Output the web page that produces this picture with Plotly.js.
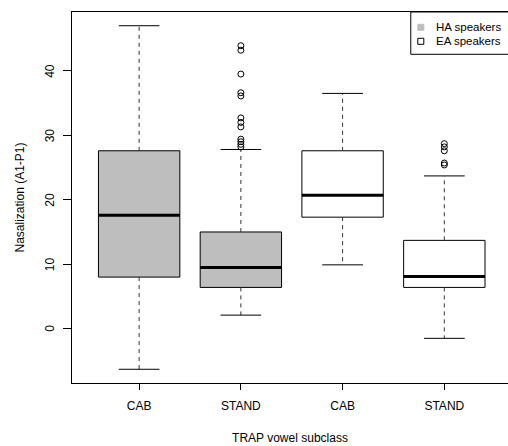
<!DOCTYPE html>
<html>
<head>
<meta charset="utf-8">
<script src="https://cdn.plot.ly/plotly-3.0.1.min.js"></script>
<style>html,body{margin:0;padding:0;background:#fff;}#chart{width:508px;height:446px;}</style>
</head>
<body>
<div id="chart"></div>
<script>
// ---- data ----
const categories = ['CAB', 'STAND', 'CAB', 'STAND'];
const speakerGroup = ['HA', 'HA', 'EA', 'EA'];
const lowerWhisker = [-6.3, 2.1, 9.9, -1.5];
const q1 = [8.0, 6.4, 17.3, 6.4];
const median = [17.6, 9.5, 20.7, 8.1];
const q3 = [27.6, 15.0, 27.6, 13.7];
const upperWhisker = [47.0, 27.8, 36.5, 23.7];
const outliers = [
  [],
  [43.9, 43.2, 39.5, 36.6, 36.1, 32.7, 32.0, 31.3, 29.4, 29.0, 28.6, 28.2],
  [],
  [28.7, 28.2, 27.6, 25.7, 25.4]
];
const groupFill = { HA: '#BEBEBE', EA: '#FFFFFF' };
const legendLabels = ['HA speakers', 'EA speakers'];
const legendGroups = ['HA', 'EA'];
const yTicks = [0, 10, 20, 30, 40];
const xTitle = 'TRAP vowel subclass';
const yTitle = 'Nasalization (A1-P1)';

// ---- build traces ----
const FONT = 'Liberation Sans, Arial, Helvetica, sans-serif';
const pos = categories.map((c, i) => i + 1);
const half = 0.4, capHalf = 0.2;
const traces = [];

pos.forEach((p, i) => {
  traces.push({
    type: 'scatter', mode: 'lines', hoverinfo: 'skip', showlegend: false,
    x: [p - half, p + half, p + half, p - half, p - half],
    y: [q1[i], q1[i], q3[i], q3[i], q1[i]],
    fill: 'toself', fillcolor: groupFill[speakerGroup[i]],
    line: { color: '#000', width: 1 }
  });
});

const wx = [], wy = [], cx = [], cy = [], mx = [], my = [], ox = [], oy = [];
pos.forEach((p, i) => {
  wx.push(p, p, null, p, p, null);
  wy.push(q3[i], upperWhisker[i], null, q1[i], lowerWhisker[i], null);
  cx.push(p - capHalf, p + capHalf, null, p - capHalf, p + capHalf, null);
  cy.push(upperWhisker[i], upperWhisker[i], null, lowerWhisker[i], lowerWhisker[i], null);
  mx.push(p - half, p + half, null);
  my.push(median[i], median[i], null);
  outliers[i].forEach(v => { ox.push(p); oy.push(v); });
});

traces.push({ type: 'scatter', mode: 'lines', x: wx, y: wy, showlegend: false, hoverinfo: 'skip',
  line: { color: '#333', width: 1, dash: '4px,4px' } });
traces.push({ type: 'scatter', mode: 'lines', x: cx, y: cy, showlegend: false, hoverinfo: 'skip',
  line: { color: '#000', width: 1 } });
traces.push({ type: 'scatter', mode: 'lines', x: mx, y: my, showlegend: false, hoverinfo: 'skip',
  line: { color: '#000', width: 3 } });
traces.push({ type: 'scatter', mode: 'markers', x: ox, y: oy, showlegend: false, hoverinfo: 'skip',
  marker: { symbol: 'circle-open', size: 6, color: '#000', line: { width: 1, color: '#000' } } });

// ---- legend (manual, R style) ----
const shapes = [{
  type: 'rect', xref: 'paper', yref: 'paper', x0: 0.777, x1: 1.02, y0: 0.886, y1: 1,
  line: { color: '#000', width: 1 }, fillcolor: 'rgba(0,0,0,0)'
}];
const annotations = [];
const rowY = [0.9587, 0.921];
legendLabels.forEach((lab, k) => {
  const g = legendGroups[k];
  shapes.push({
    type: 'rect', xref: 'paper', yref: 'paper',
    x0: 0.800 - 0.0069, x1: 0.800 + 0.0069, y0: rowY[k] - 0.0081, y1: rowY[k] + 0.0081,
    fillcolor: g === 'HA' ? groupFill.HA : '#FFFFFF',
    line: { color: g === 'HA' ? groupFill.HA : '#000', width: 1 }
  });
  annotations.push({
    xref: 'paper', yref: 'paper', x: 0.831, y: rowY[k], xanchor: 'left', yanchor: 'middle',
    text: lab, showarrow: false, font: { family: FONT, size: 11.5, color: '#000' }
  });
});
// y tick labels, rotated like R's default (las = 0)
yTicks.forEach(v => {
  annotations.push({
    xref: 'paper', yref: 'y', x: (50 - 72) / 436, y: v, xanchor: 'center', yanchor: 'middle',
    textangle: -90, text: String(v), showarrow: false, font: { family: FONT, size: 12, color: '#000' }
  });
});
// y-axis title placed like R's mtext (line 3)
annotations.push({
  xref: 'paper', yref: 'paper', x: (19 - 72) / 436, y: 0.5, xanchor: 'center', yanchor: 'middle',
  textangle: -90, text: yTitle, showarrow: false, font: { family: FONT, size: 12, color: '#000' }
});

const layout = {
  width: 508, height: 446,
  margin: { l: 72, r: 0, t: 12, b: 63, pad: 0 },
  paper_bgcolor: '#fff', plot_bgcolor: '#fff',
  showlegend: false,
  font: { family: FONT, size: 12, color: '#000' },
  xaxis: {
    range: [0.34, 4.626], tickmode: 'array', tickvals: pos, ticktext: categories,
    ticks: 'outside', ticklen: 6, tickcolor: '#000', tickwidth: 1,
    showline: true, mirror: true, linecolor: '#000', linewidth: 1,
    showgrid: false, zeroline: false, ticklabelstandoff: 6,
    tickfont: { family: FONT, size: 12, color: '#000' },
    title: { text: xTitle, font: { family: FONT, size: 12, color: '#000' }, standoff: 21 }
  },
  yaxis: {
    range: [-8.43, 49.13], tickmode: 'array', tickvals: yTicks, showticklabels: false,
    ticks: 'outside', ticklen: 8, tickcolor: '#000', tickwidth: 1,
    showline: true, mirror: false, linecolor: '#000', linewidth: 1,
    showgrid: false, zeroline: false
  },
  shapes: shapes,
  annotations: annotations
};

Plotly.newPlot('chart', traces, layout, { staticPlot: true, displayModeBar: false });
</script>
</body>
</html>
